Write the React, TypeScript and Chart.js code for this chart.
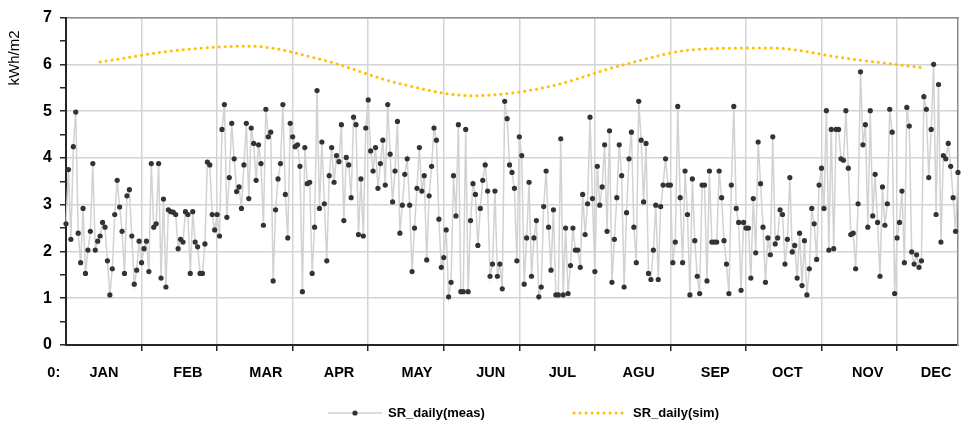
import React, { useEffect, useRef } from 'react';
import { Chart, registerables } from 'chart.js';

Chart.register(...registerables);

const measLabel = 'SR_daily(meas)';
const simLabel = 'SR_daily(sim)';
const yTitle = 'kWh/m2';

// daily measured solar radiation (kWh/m2), day index 0..366
const measDaily: number[] = [
  2.59, 3.75, 2.26, 4.24, 4.98, 2.39, 1.76, 2.92, 1.53, 2.03,
  2.43, 3.88, 2.03, 2.22, 2.33, 2.62, 2.52, 1.80, 1.07, 1.63,
  2.79, 3.52, 2.95, 2.43, 1.53, 3.19, 3.32, 2.33, 1.30, 1.60,
  2.22, 1.76, 2.06, 2.22, 1.57, 3.88, 2.52, 2.59, 3.88, 1.43,
  3.12, 1.24, 2.89, 2.85, 2.84, 2.79, 2.06, 2.26, 2.20, 2.85,
  2.79, 1.53, 2.85, 2.20, 2.10, 1.53, 1.53, 2.16, 3.91, 3.85,
  2.79, 2.46, 2.79, 2.33, 4.61, 5.14, 2.73, 3.58, 4.74, 3.98,
  3.28, 3.38, 2.92, 3.85, 4.74,
  3.13, 4.64, 4.31, 3.52, 4.28, 3.88, 2.56, 5.04, 4.45, 4.55,
  1.37, 2.89, 3.55, 3.88, 5.14, 3.22, 2.29, 4.74, 4.45, 4.24,
  4.28, 3.82, 1.14, 4.22, 3.45, 3.48, 1.53, 2.52, 5.44, 2.92,
  4.34, 3.02, 1.80, 3.62, 4.22, 3.48, 4.05, 3.92, 4.71, 2.66,
  4.01, 3.85, 3.15, 4.87, 4.71, 2.36, 3.55, 2.33, 4.64, 5.24,
  4.15, 3.72, 4.22, 3.35, 3.88, 4.38, 3.42, 5.14, 4.08, 3.06,
  3.72, 4.78, 2.39, 2.99, 3.65, 3.98, 2.99, 1.57, 2.50, 3.35,
  4.22, 3.29, 3.62,
  1.82, 3.19, 3.82, 4.64, 4.38, 2.69, 1.66, 1.87, 2.46, 1.03,
  1.34, 3.62, 2.76, 4.71, 1.14, 1.14, 4.61, 1.14, 2.66, 3.45,
  3.22, 2.13, 2.92, 3.52, 3.85, 3.29, 1.47, 1.73, 3.29, 1.47,
  1.73, 1.20, 5.21, 4.84, 3.85, 3.69, 3.35, 1.80, 4.45, 4.05,
  1.30, 2.29, 3.48, 1.47, 2.29, 2.66, 1.03, 1.24, 2.96, 3.72,
  2.52, 1.60, 2.89, 1.07, 1.07, 4.41, 1.07, 2.50, 1.10, 1.70,
  2.50, 2.03, 2.03, 1.66, 3.22, 2.36, 3.02, 4.87, 3.13, 1.57,
  3.82, 2.99, 3.38,
  4.28, 2.43, 4.58, 1.34, 2.26, 3.15, 4.28, 3.62, 1.24, 2.83,
  3.98, 4.55, 2.52, 1.76, 5.21, 4.38, 3.06, 4.31, 1.53, 1.40,
  2.03, 2.99, 1.40, 2.96, 3.42, 3.98, 3.42, 3.42, 1.76, 2.20,
  5.10, 3.15, 1.76, 3.72, 2.79, 1.07, 3.55, 2.23, 1.47, 1.10,
  3.42, 3.42, 1.37, 3.72, 2.20, 2.20, 2.20, 3.72, 3.15, 2.23,
  1.73, 1.10, 3.42, 5.10, 2.92, 2.62, 1.17, 2.62, 2.50, 2.50,
  1.43, 3.13, 1.97, 4.34, 3.45, 2.52, 1.34, 2.29, 1.93, 4.45,
  2.16, 2.29, 2.89,
  2.79, 1.73, 2.26, 3.58, 1.99, 2.13, 1.43, 2.39, 1.27, 2.23,
  1.07, 1.63, 2.92, 2.59, 1.83, 3.42, 3.78, 2.92, 5.01, 2.03,
  4.61, 2.06, 4.61, 4.61, 3.98, 3.95, 5.01, 3.78, 2.36, 2.39,
  1.63, 3.02, 5.84, 4.28, 4.71, 2.52, 5.01, 2.76, 3.65, 2.62,
  1.47, 3.38, 2.56, 3.02, 5.04, 4.55, 1.10, 2.29, 2.62, 3.29,
  1.76, 5.08, 4.68, 1.99, 1.73, 1.93, 1.66, 1.80, 5.31, 5.04,
  3.58, 4.61, 6.00, 2.79, 5.57, 2.20, 4.05, 3.98, 4.31, 3.82,
  3.15, 2.43, 3.69,
];

// simulated monthly values placed at mid-month days
const simDays: number[] = [14, 44, 75, 105, 136, 167, 197, 228, 259, 289, 320, 351];
const simMonthly: number[] = [6.05, 6.29, 6.39, 6.10, 5.60, 5.33, 5.51, 5.98, 6.32, 6.35, 6.13, 5.93];

// x-axis: vertical grid every 31 days, month labels at their own days
const xMin = 0;
const xMax = 366;
const gridDays: number[] = [31, 62, 93, 124, 155, 186, 217, 248, 279, 310, 341];
const monthLabels: string[] = ['0:', 'JAN', 'FEB', 'MAR', 'APR', 'MAY', 'JUN', 'JUL', 'AGU', 'SEP', 'OCT', 'NOV', 'DEC'];
const monthLabelDays: number[] = [-5, 15.6, 50, 82, 112, 144, 174.3, 203.7, 235, 266.4, 296, 329, 357];

const yMin = 0;
const yMax = 7;
const yStep = 0.5;

const FONT = "'Liberation Sans', Arial, sans-serif";
const GRID = '#d4d4d4';
const AXIS = '#262626';
const FRAME = '#8c8c8c';
const MEAS_LINE = '#d2d2d2';
const MEAS_POINT = '#333333';
const SIM_COLOR = '#FFC000';

const isGridDay = (v: number | undefined) => v !== undefined && gridDays.includes(v);

const overlayPlugin = {
  id: 'overlay',
  afterDraw(chart: any) {
    const ctx = chart.ctx as CanvasRenderingContext2D;
    // y-axis title
    ctx.save();
    ctx.translate(15, 58);
    ctx.rotate(-Math.PI / 2);
    ctx.font = `15px ${FONT}`;
    ctx.fillStyle = '#000';
    ctx.textAlign = 'center';
    ctx.textBaseline = 'middle';
    ctx.fillText(yTitle, 0, 0);
    ctx.restore();

    // legend
    const ly = 413;
    const ds = chart.data.datasets;
    ctx.save();
    ctx.font = `bold 13px ${FONT}`;
    ctx.fillStyle = '#000';
    ctx.textAlign = 'left';
    ctx.textBaseline = 'middle';
    // item 1
    ctx.strokeStyle = ds[0].borderColor;
    ctx.lineWidth = 1.5;
    ctx.beginPath();
    ctx.moveTo(328, ly);
    ctx.lineTo(382, ly);
    ctx.stroke();
    ctx.fillStyle = ds[0].pointBackgroundColor;
    ctx.beginPath();
    ctx.arc(355, ly, 2.6, 0, Math.PI * 2);
    ctx.fill();
    ctx.fillStyle = '#000';
    ctx.fillText(ds[0].label, 388, ly);
    // item 2
    ctx.strokeStyle = ds[1].borderColor;
    ctx.lineWidth = 3;
    ctx.lineCap = 'round';
    ctx.setLineDash([0.1, 5.9]);
    ctx.beginPath();
    ctx.moveTo(574, ly);
    ctx.lineTo(623, ly);
    ctx.stroke();
    ctx.setLineDash([]);
    ctx.fillText(ds[1].label, 633, ly);
    ctx.restore();
  },
};

export default function App() {
  const ref = useRef<HTMLCanvasElement | null>(null);

  useEffect(() => {
    if (!ref.current) return;
    Chart.defaults.font.family = FONT;
    Chart.defaults.color = '#000';
    const chart = new Chart(ref.current, {
      type: 'line',
      data: {
        datasets: [
          {
            label: measLabel,
            data: measDaily.map((v, i) => ({ x: i, y: v })),
            borderColor: MEAS_LINE,
            borderWidth: 1.5,
            pointRadius: 2.6,
            pointHoverRadius: 2.6,
            pointBackgroundColor: MEAS_POINT,
            pointBorderWidth: 0,
            tension: 0,
            clip: false,
            order: 2,
          } as any,
          {
            label: simLabel,
            data: simDays.map((d, i) => ({ x: d, y: simMonthly[i] })),
            borderColor: SIM_COLOR,
            borderWidth: 3,
            borderDash: [0.1, 5.9],
            borderCapStyle: 'round',
            pointRadius: 0,
            cubicInterpolationMode: 'monotone',
            order: 1,
          } as any,
        ],
      },
      options: {
        responsive: false,
        animation: false,
        events: [],
        layout: { padding: { top: 12, right: 9, left: 0, bottom: 0 } },
        plugins: { legend: { display: false }, tooltip: { enabled: false } },
        scales: {
          x: {
            type: 'linear',
            position: 'bottom',
            min: xMin,
            max: xMax,
            afterBuildTicks: (scale: any) => {
              const vals = [...gridDays, ...monthLabelDays].sort((a, b) => a - b);
              scale.ticks = vals.map((v) => ({ value: v }));
            },
            afterFit: (scale: any) => {
              scale.height = 85;
            },
            grid: {
              color: (c: any) => (isGridDay(c.tick?.value) ? GRID : 'transparent'),
              tickColor: (c: any) => (isGridDay(c.tick?.value) ? AXIS : 'transparent'),
              lineWidth: 1.5,
              tickWidth: 1.5,
              tickLength: 6,
            },
            border: { color: AXIS, width: 2 },
            ticks: {
              autoSkip: false,
              maxRotation: 0,
              minRotation: 0,
              padding: 13,
              color: '#000',
              font: { size: 14.5, weight: 'bold' },
              callback: (v: any) => {
                const idx = monthLabelDays.indexOf(Number(v));
                return idx >= 0 ? monthLabels[idx] : '';
              },
            },
          },
          x2: {
            type: 'linear',
            position: 'top',
            min: xMin,
            max: xMax,
            grid: { drawOnChartArea: false, drawTicks: false },
            ticks: { display: false },
            border: { color: FRAME, width: 1.5 },
          },
          y: {
            type: 'linear',
            position: 'left',
            min: yMin,
            max: yMax,
            afterFit: (scale: any) => {
              scale.width = 66;
            },
            grid: {
              color: (c: any) => {
                const v = c.tick?.value;
                return v !== undefined && v > 0 && Number.isInteger(v) ? GRID : 'transparent';
              },
              tickColor: AXIS,
              lineWidth: 1.5,
              tickWidth: 1.5,
              tickLength: 6,
            },
            border: { color: AXIS, width: 2 },
            ticks: {
              stepSize: yStep,
              padding: 8,
              color: '#000',
              font: { size: 16, weight: 'bold' },
              callback: (v: any) => (Number.isInteger(Number(v)) ? String(v) : ''),
            },
          },
          y2: {
            type: 'linear',
            position: 'right',
            min: yMin,
            max: yMax,
            grid: { drawOnChartArea: false, drawTicks: false },
            ticks: { display: false },
            border: { color: FRAME, width: 1.5 },
          },
        },
      } as any,
      plugins: [overlayPlugin],
    });
    return () => chart.destroy();
  }, []);

  return (
    <div style={{ position: 'absolute', left: 0, top: 0, width: 967, height: 430, background: '#fff' }}>
      <canvas ref={ref} width={967} height={430} style={{ display: 'block' }} />
    </div>
  );
}
